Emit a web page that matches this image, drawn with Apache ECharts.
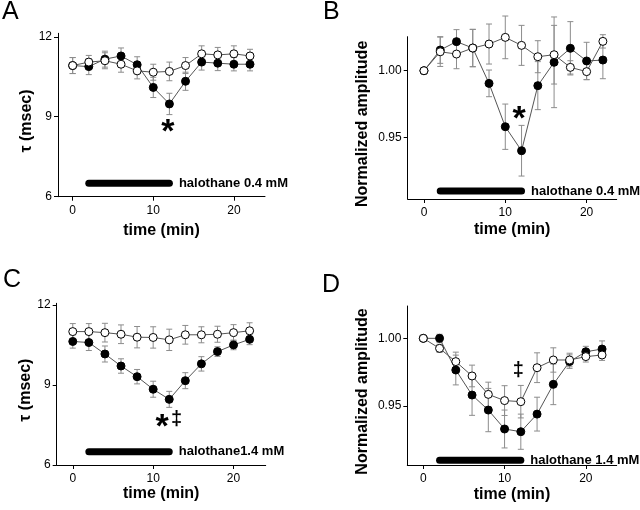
<!DOCTYPE html>
<html><head><meta charset="utf-8">
<script src="https://cdn.jsdelivr.net/npm/echarts@6/dist/echarts.min.js"></script>
<style>html,body{margin:0;padding:0;background:#fff}#c{width:640px;height:510px}</style>
</head><body><div id="c"></div>
<script>
const times = [0, 2, 4, 6, 8, 10, 12, 14, 16, 18, 20, 22];

// Panel A: tau, halothane 0.4 mM
const aOpen      = [10.92, 11.05, 11.10, 10.97, 10.72, 10.67, 10.70, 10.92, 11.36, 11.32, 11.36, 11.28];
const aOpenErr   = [0.30, 0.25, 0.30, 0.30, 0.30, 0.30, 0.35, 0.30, 0.30, 0.28, 0.30, 0.25];
const aFilled    = [10.92, 10.88, 11.16, 11.28, 10.95, 10.10, 9.48, 10.33, 11.05, 11.01, 10.97, 10.97];
const aFilledErr = [0.30, 0.30, 0.30, 0.30, 0.30, 0.38, 0.40, 0.34, 0.30, 0.28, 0.25, 0.25];

// Panel B: normalized amplitude, halothane 0.4 mM
const bOpen      = [1.000, 1.0142, 1.0125, 1.0170, 1.0200, 1.0250, 1.0190, 1.0105, 1.0120, 1.0025, 0.9993, 1.0220];
const bOpenErr   = [0, 0.011, 0.011, 0.014, 0.015, 0.016, 0.015, 0.012, 0.022, 0.005, 0.006, 0.005];
const bFilled    = [1.000, 1.0155, 1.0218, 1.0170, 0.9905, 0.9580, 0.9400, 0.9888, 1.0063, 1.0168, 1.0073, 1.0080];
const bFilledErr = [0, 0.010, 0.009, 0.014, 0.010, 0.017, 0.019, 0.018, 0.034, 0.020, 0.014, 0.014];

// Panel C: tau, halothane 1.4 mM
const cOpen      = [11.00, 11.00, 10.96, 10.90, 10.79, 10.78, 10.69, 10.88, 10.88, 10.90, 10.96, 11.03];
const cOpenErr   = [0.30, 0.30, 0.35, 0.35, 0.40, 0.40, 0.40, 0.35, 0.30, 0.30, 0.30, 0.30];
const cFilled    = [10.63, 10.59, 10.16, 9.71, 9.31, 8.84, 8.46, 9.16, 9.79, 10.25, 10.50, 10.71];
const cFilledErr = [0.25, 0.30, 0.30, 0.27, 0.27, 0.30, 0.30, 0.30, 0.27, 0.18, 0.18, 0.20];

// Panel D: normalized amplitude, halothane 1.4 mM
const dOpen      = [1.000, 0.9926, 0.9828, 0.9722, 0.9586, 0.9540, 0.9532, 0.9783, 0.9840, 0.9840, 0.9865, 0.9877];
const dOpenErr   = [0, 0.003, 0.007, 0.008, 0.009, 0.011, 0.012, 0.011, 0.009, 0.005, 0.004, 0.004];
const dFilled    = [1.000, 1.000, 0.9766, 0.9581, 0.9470, 0.9330, 0.9310, 0.9440, 0.9660, 0.9828, 0.9901, 0.9921];
const dFilledErr = [0, 0.003, 0.011, 0.015, 0.016, 0.014, 0.013, 0.0125, 0.015, 0.005, 0.004, 0.006];

// Halothane application bars [start, end, level]
const haloA = [2, 12, 6.5];
const haloB = [2, 12, 0.9098];
const haloC = [2, 12, 6.5];
const haloD = [2, 12, 0.9100];
const haloTextA = 'halothane 0.4 mM';
const haloTextB = 'halothane 0.4 mM';
const haloTextC = 'halothane1.4 mM';
const haloTextD = 'halothane 1.4 mM';

// Significance marks [x, y, text]
const markA = [[11.8, 8.69, '*']];
const markB = [[11.7, 0.9692, '*']];
const markC = [[11.1, 7.69, '*'], [12.9, 7.69, '‡']];
const markD = [[11.7, 0.9766, '‡']];

// Tick labels
const xTicks = [0, 10, 20];
const tauTicks = [6, 9, 12];
const ampTicks = [0.95, 1.00];

const FONT = '"Liberation Sans", Arial, Helvetica, sans-serif';

const panels = [
  {letter:'A', grid:{left:58, top:33.3, width:207, height:163.4}, x:[-1.82, 23.86], y:[6, 12.13],
   yTicks:tauTicks, yName:'τ (msec)', yGap:23, xGap:26, fmt:v=>String(v),
   open:aOpen, openErr:aOpenErr, filled:aFilled, filledErr:aFilledErr, halo:haloA, haloText:haloTextA, marks:markA},
  {letter:'B', grid:{left:407.7, top:36.7, width:209, height:162.3}, x:[-2.0, 23.7], y:[0.9038, 1.0255],
   yTicks:ampTicks, yName:'Normalized amplitude', yGap:37, xGap:23, fmt:v=>v.toFixed(2),
   open:bOpen, openErr:bOpenErr, filled:bFilled, filledErr:bFilledErr, halo:haloB, haloText:haloTextB, marks:markB},
  {letter:'C', grid:{left:56.7, top:303.3, width:209, height:161.7}, x:[-2.0, 24.0], y:[6, 12.06],
   yTicks:tauTicks, yName:'τ (msec)', yGap:23, xGap:20, fmt:v=>String(v),
   open:cOpen, openErr:cOpenErr, filled:cFilled, filledErr:cFilledErr, halo:haloC, haloText:haloTextC, marks:markC},
  {letter:'D', grid:{left:407.3, top:306, width:209.4, height:159}, x:[-1.97, 23.8], y:[0.9064, 1.0239],
   yTicks:ampTicks, yName:'Normalized amplitude', yGap:37, xGap:22, fmt:v=>v.toFixed(2),
   open:dOpen, openErr:dOpenErr, filled:dFilled, filledErr:dFilledErr, halo:haloD, haloText:haloTextD, marks:markD}
];

const letterPos = [{left:2, top:0}, {left:323, top:0}, {left:3, top:268}, {left:322, top:273}];

function errRender(params, api) {
  const x = api.value(0), y = api.value(1), e = api.value(2);
  if (!e) return null;
  const t = api.coord([x, y + e]), b = api.coord([x, y - e]);
  const cap = 3, st = {stroke:'#8c8c8c', lineWidth:1};
  return {type:'group', children:[
    {type:'line', shape:{x1:t[0], y1:t[1], x2:b[0], y2:b[1]}, style:st},
    {type:'line', shape:{x1:t[0]-cap, y1:t[1], x2:t[0]+cap, y2:t[1]}, style:st},
    {type:'line', shape:{x1:b[0]-cap, y1:b[1], x2:b[0]+cap, y2:b[1]}, style:st}
  ]};
}

const grids = [], xAxes = [], yAxes = [], series = [], titles = [];
panels.forEach((p, i) => {
  grids.push(Object.assign({outerBoundsMode:'none', containLabel:false}, p.grid));
  titles.push(Object.assign({text:p.letter, padding:0, textStyle:{fontFamily:FONT, fontSize:25, fontWeight:'normal', color:'#000'}}, letterPos[i]));
  xAxes.push({type:'value', gridIndex:i, min:p.x[0], max:p.x[1],
    axisLine:{show:true, onZero:false, lineStyle:{color:'#000', width:1}},
    axisTick:{show:true, customValues:xTicks, length:4, lineStyle:{color:'#000'}},
    axisLabel:{customValues:xTicks, fontSize:12, color:'#000', margin:8, fontFamily:FONT},
    splitLine:{show:false},
    name:'time (min)', nameLocation:'middle', nameGap:p.xGap,
    nameTextStyle:{fontFamily:FONT, fontSize:16, fontWeight:'bold', color:'#000', verticalAlign:'top'}});
  yAxes.push({type:'value', gridIndex:i, min:p.y[0], max:p.y[1],
    axisLine:{show:true, onZero:false, lineStyle:{color:'#000', width:1}},
    axisTick:{show:true, customValues:p.yTicks, length:4, lineStyle:{color:'#000'}},
    axisLabel:{customValues:p.yTicks, fontSize:12, color:'#000', margin:6, fontFamily:FONT, formatter:p.fmt},
    splitLine:{show:false},
    name:p.yName, nameLocation:'middle', nameGap:p.yGap, nameRotate:90,
    nameTextStyle:{fontFamily:FONT, fontSize:16, fontWeight:'bold', color:'#000', verticalAlign:'bottom', padding:[0, 12, 0, 0]}});

  const mk = (vals) => times.map((t, k) => [t, vals[k]]);
  const mkE = (vals, errs) => times.map((t, k) => [t, vals[k], errs[k]]);
  // halothane bar
  series.push({type:'line', xAxisIndex:i, yAxisIndex:i, data:[[p.halo[0], p.halo[2]], [p.halo[1], p.halo[2]]],
    showSymbol:false, symbol:'none', lineStyle:{color:'#000', width:7, cap:'round'}, z:2, silent:true});
  series.push({type:'scatter', xAxisIndex:i, yAxisIndex:i, data:[[p.halo[1], p.halo[2]]], symbolSize:1,
    itemStyle:{color:'rgba(0,0,0,0)', opacity:1}, silent:true,
    label:{show:true, position:'right', distance:9, formatter:p.haloText, fontFamily:FONT, fontSize:13, fontWeight:'bold', color:'#000'}});
  // error bars
  series.push({type:'custom', xAxisIndex:i, yAxisIndex:i, renderItem:errRender, data:mkE(p.filled, p.filledErr), z:3, silent:true});
  series.push({type:'custom', xAxisIndex:i, yAxisIndex:i, renderItem:errRender, data:mkE(p.open, p.openErr), z:3, silent:true});
  // data lines
  series.push({type:'line', xAxisIndex:i, yAxisIndex:i, data:mk(p.filled), symbol:'circle', symbolSize:8,
    itemStyle:{color:'#000', borderColor:'#000', borderWidth:1}, lineStyle:{color:'#555', width:1}, z:5});
  series.push({type:'line', xAxisIndex:i, yAxisIndex:i, data:mk(p.open), symbol:'circle', symbolSize:8,
    itemStyle:{color:'#fff', borderColor:'#000', borderWidth:1}, lineStyle:{color:'#555', width:1}, z:6});
  // significance marks
  p.marks.forEach(m => {
    const isStar = m[2] === '*';
    series.push({type:'scatter', xAxisIndex:i, yAxisIndex:i, data:[[m[0], m[1]]], symbolSize:1,
      itemStyle:{color:'rgba(0,0,0,0)', opacity:1}, silent:true,
      label:{show:true, position:'inside', formatter:m[2], fontFamily:FONT, fontWeight:'bold', color:'#000',
        fontSize: isStar ? 34 : 20, offset: isStar ? [0, 8] : [0, 0]}});
  });
});

const chart = echarts.init(document.getElementById('c'), null, {renderer:'canvas'});
chart.setOption({animation:false, backgroundColor:'#fff', title:titles, grid:grids, xAxis:xAxes, yAxis:yAxes, series:series});
</script></body></html>
